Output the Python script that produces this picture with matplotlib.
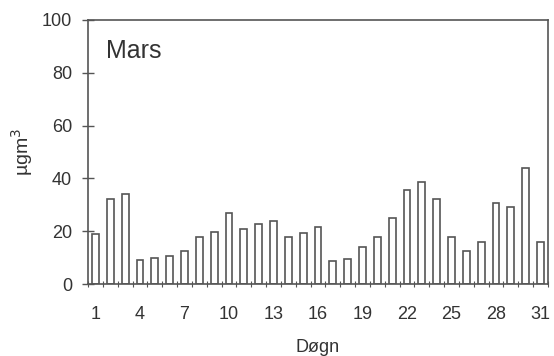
import numpy as np
import matplotlib
matplotlib.use('Agg')
import matplotlib.pyplot as plt

# daily values, March
days = np.arange(1, 32)
values = [18.8, 32.4, 34.2, 9.2, 10.0, 10.5, 12.4, 18.0, 19.7, 26.8,
          20.9, 22.7, 24.0, 18.0, 19.2, 21.7, 8.6, 9.5, 13.9, 17.9,
          25.2, 35.5, 38.6, 32.4, 17.9, 12.4, 16.0, 30.6, 29.1, 43.9, 16.0]
day_labels = [1, 4, 7, 10, 13, 16, 19, 22, 25, 28, 31]
y_ticks = [0, 20, 40, 60, 80, 100]
month = 'Mars'

plt.rcParams['font.family'] = ['Liberation Sans', 'DejaVu Sans']
ink = '#555555'
txt = '#333333'

fig = plt.figure(figsize=(5.54, 3.56), dpi=100)
ax = fig.add_axes([0.159, 0.202, 0.83, 0.742])
ax.bar(days, values, width=0.47, color='white', edgecolor=ink, linewidth=1.2)

ax.set_xlim(0.5, 31.5)
ax.set_ylim(0, 100)
ax.set_xticks(day_labels)
ax.set_xticklabels([str(d) for d in day_labels])
ax.set_xticks(np.arange(0.5, 32, 1), minor=True)
ax.set_yticks(y_ticks)
ax.tick_params(axis='x', which='major', length=0, pad=16, labelsize=13, labelcolor=txt)
ax.tick_params(axis='x', which='minor', direction='inout', length=5, width=0.8, color=ink)
ax.tick_params(axis='y', direction='inout', length=9, width=1.0, color=ink, labelsize=13,
               labelcolor=txt, pad=7)
for s in ax.spines.values():
    s.set_color(ink)
    s.set_linewidth(1.2)

ax.set_xlabel('Døgn', fontsize=13, color=txt, labelpad=11)
ax.set_ylabel('µgm$^3$', fontsize=14, color=txt, labelpad=5)
ax.text(0.04, 0.855, month, transform=ax.transAxes, fontsize=18, color=txt)

fig.savefig('out.png', dpi=100)
